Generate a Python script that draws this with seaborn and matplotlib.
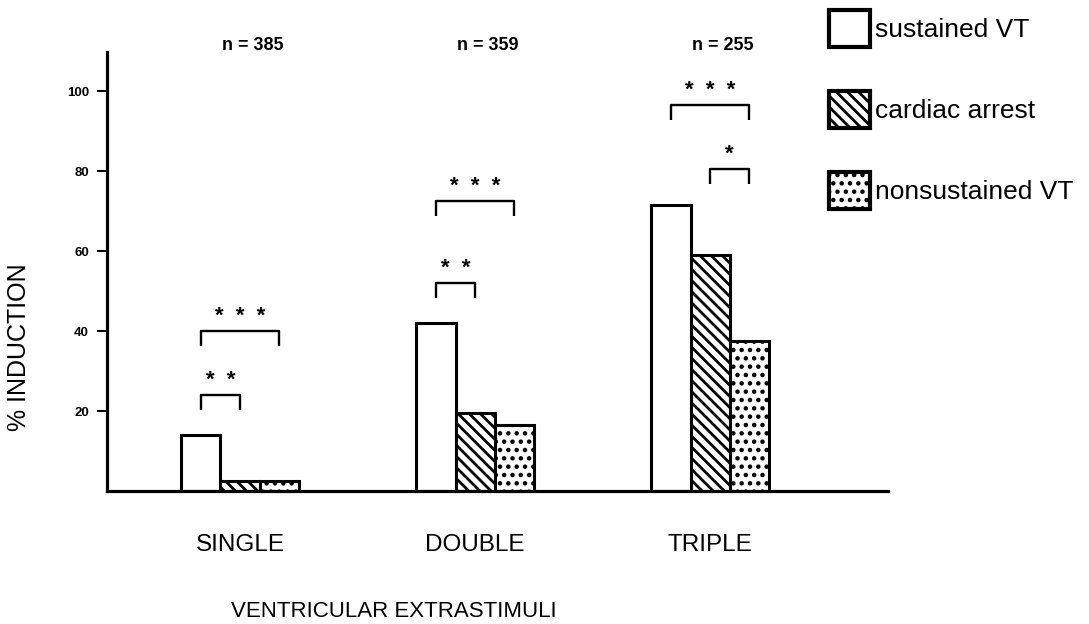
import matplotlib
matplotlib.use("Agg")
import matplotlib.pyplot as plt
from matplotlib.patches import Patch
import seaborn as sns
import pandas as pd

# ---- data ----
categories = ["SINGLE", "DOUBLE", "TRIPLE"]
series = ["sustained VT", "cardiac arrest", "nonsustained VT"]
sustained_vt = [14, 42, 71.5]
cardiac_arrest = [2.5, 19.5, 59]
nonsustained_vt = [2.5, 16.5, 37.5]
n_labels = ["n = 385", "n = 359", "n = 255"]
y_ticks = [20, 40, 60, 80, 100]
# significance brackets: (category index, series a, series b, bracket top value, stars)
brackets = [
    (0, 0, 2, 40.0, "*  *  *"),
    (0, 0, 1, 24.0, "*  *"),
    (1, 0, 2, 72.5, "*  *  *"),
    (1, 0, 1, 52.0, "*  *"),
    (2, 0, 2, 96.5, "*  *  *"),
    (2, 1, 2, 80.5, "*"),
]

sns.set_theme(style="white")
plt.rcParams["font.family"] = ["Liberation Sans", "DejaVu Sans"]
plt.rcParams["hatch.linewidth"] = 2.0
plt.rcParams["hatch.color"] = "black"
plt.rcParams["text.color"] = "black"
plt.rcParams["axes.labelcolor"] = "black"
plt.rcParams["xtick.color"] = "black"
plt.rcParams["ytick.color"] = "black"

df = pd.DataFrame({
    "stimuli": categories * 3,
    "type": [series[0]] * 3 + [series[1]] * 3 + [series[2]] * 3,
    "pct": sustained_vt + cardiac_arrest + nonsustained_vt,
})

fig = plt.figure(figsize=(10.89, 6.24), dpi=100)
ax = fig.add_axes([0.0983, 0.2131, 0.7172, 0.7035])

sns.barplot(data=df, x="stimuli", y="pct", hue="type", order=categories,
            hue_order=series, palette={s: "white" for s in series},
            edgecolor="black", linewidth=2.2, width=0.5, gap=0,
            saturation=1, errorbar=None, legend=False, ax=ax)

hatches = ["", "\\\\\\", ".."]
for cont, h in zip(ax.containers, hatches):
    for p in cont:
        p.set_hatch(h)

ax.set_xlim(-0.566, 2.757)
ax.set_ylim(0, 109.75)
ax.set_yticks(y_ticks)
ax.set_yticklabels([str(t) for t in y_ticks], fontsize=9.5, fontweight="bold")
ax.tick_params(axis="y", direction="out", length=7, width=1.5, pad=6, left=True)
ax.tick_params(axis="x", length=0, pad=31, labelsize=17.5)

for s in ["top", "right"]:
    ax.spines[s].set_visible(False)
for s in ["left", "bottom"]:
    ax.spines[s].set_linewidth(2.3)
    ax.spines[s].set_color("black")

ax.set_xlabel("VENTRICULAR EXTRASTIMULI", fontsize=16)
ax.xaxis.set_label_coords(0.367, -0.25)
ax.set_ylabel("% INDUCTION", fontsize=18)
ax.yaxis.set_label_coords(-0.097, 0.328)

# n labels
for i, t in enumerate(n_labels):
    ax.text(i + 0.055, 111.5, t, ha="center", va="center", fontsize=13,
            fontweight="bold", clip_on=False)

# significance brackets
leg = 3.75
for cat, a, b, ytop, stars in brackets:
    pa = ax.containers[a][cat]
    pb = ax.containers[b][cat]
    xa = pa.get_x() + pa.get_width() / 2
    xb = pb.get_x() + pb.get_width() / 2
    ax.plot([xa, xa, xb, xb], [ytop - leg, ytop, ytop, ytop - leg],
            color="black", lw=1.7, solid_capstyle="butt", clip_on=False)
    ax.text((xa + xb) / 2, ytop + 2.3, stars, ha="center", va="baseline",
            fontsize=16, fontweight="bold", clip_on=False)

# legend
handles = [Patch(facecolor="white", edgecolor="black", hatch=h, linewidth=3.0)
           for h in hatches]
fig.legend(handles, series, loc="upper left",
           bbox_to_anchor=(829 / 1089, 1 - 10 / 624), frameon=False,
           fontsize=19, handlelength=1.55, handleheight=1.77,
           labelspacing=1.68, handletextpad=0.2, borderpad=0,
           borderaxespad=0)

fig.savefig("out.png", dpi=100)
